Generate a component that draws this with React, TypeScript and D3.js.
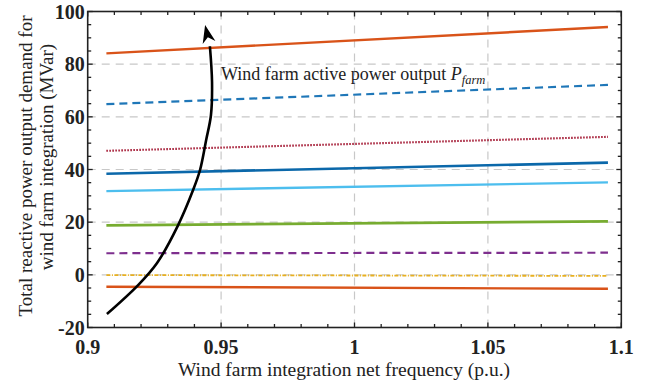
import React from "react";
import * as d3 from "d3";

// ---- data ----
const frequency = [0.907, 1.095];
const seriesOrangeTop = [84.1, 94.1];
const seriesBlueDash = [64.8, 72.1];
const seriesRedDot = [47.1, 52.4];
const seriesBlueSolid = [38.4, 42.6];
const seriesLightBlue = [31.8, 35.1];
const seriesGreen = [18.8, 20.3];
const seriesPurpleDash = [8.2, 8.4];
const seriesYellowDot = [-0.1, -0.4];
const seriesOrangeBottom = [-4.5, -5.3];

const xTicks = [0.9, 0.95, 1, 1.05, 1.1];
const xTickLabels = ["0.9", "0.95", "1", "1.05", "1.1"];
const yTicks = [-20, 0, 20, 40, 60, 80, 100];
const yTickLabels = ["-20", "0", "20", "40", "60", "80", "100"];

// arrow annotation (data coords)
const arrowX = [0.9072, 0.9189, 0.926, 0.9339, 0.9395, 0.9421, 0.9444, 0.9462, 0.9466, 0.9458];
const arrowY = [-14.9, -3.9, 4.5, 18.9, 32.2, 39.8, 51.2, 60.7, 73.2, 86.8];
const arrowTip = [0.9440, 94.9];

const W = 645, H = 386;
const M = { left: 87.7, right: 621.3, top: 11.5, bottom: 327.5 };

const series = [
  { v: seriesOrangeTop, color: "#d95319", dash: null, w: 2.4 },
  { v: seriesBlueDash, color: "#1f77b8", dash: "8,5", w: 2.2 },
  { v: seriesRedDot, color: "#a2142f", dash: "1.5,1.5", w: 2.1 },
  { v: seriesBlueSolid, color: "#0b68aa", dash: null, w: 2.6 },
  { v: seriesLightBlue, color: "#4dbeee", dash: null, w: 2.4 },
  { v: seriesGreen, color: "#77ac30", dash: null, w: 2.6 },
  { v: seriesPurpleDash, color: "#7e2f8e", dash: "8,5", w: 2.2 },
  { v: seriesYellowDot, color: "#e8b020", dash: "4,1.5,1,1.5", w: 1.8 },
  { v: seriesOrangeBottom, color: "#d95319", dash: null, w: 2.4 },
];

export default function App() {
  const x = d3.scaleLinear().domain([0.9, 1.1]).range([M.left, M.right]);
  const y = d3.scaleLinear().domain([-20, 100]).range([M.bottom, M.top]);
  const line = d3.line<number>().x((_, i) => x(frequency[i])).y((d) => y(d));

  const xMinor = d3.range(0.9, 1.1001, 0.01);
  const yMinor = d3.range(-20, 100.001, 5);

  const arrowPts: [number, number][] = arrowX.map((ax, i) => [x(ax), y(arrowY[i])]);
  const arrowPath = d3.line().curve(d3.curveCatmullRom)(arrowPts) || "";
  const tip = [x(arrowTip[0]), y(arrowTip[1])];
  const base = arrowPts[arrowPts.length - 1];
  const dx = tip[0] - base[0], dy = tip[1] - base[1];
  const len = Math.hypot(dx, dy);
  const ux = dx / len, uy = dy / len;
  const hl = 18, hw = 6.5;
  const bx = tip[0] - ux * hl, by = tip[1] - uy * hl;
  const head = `M${tip[0]},${tip[1]} L${bx - uy * hw},${by + ux * hw} L${tip[0] - ux * hl * 0.7},${tip[1] - uy * hl * 0.7} L${bx + uy * hw},${by - ux * hw} Z`;

  const font = "'Liberation Serif', 'Times New Roman', serif";
  const grid = "#c8c8c8";

  return (
    <svg width={W} height={H} style={{ position: "absolute", left: 0, top: 0, background: "#fff" }} fontFamily={font}>
      {/* grid */}
      {yTicks.filter((t) => t > -20 && t < 100).map((t) => (
        <line key={"gy" + t} x1={M.left} x2={M.right} y1={y(t)} y2={y(t)} stroke={grid} strokeWidth={1.2} strokeDasharray="8,6" />
      ))}
      {xTicks.filter((t) => t > 0.9 && t < 1.1).map((t) => (
        <line key={"gx" + t} x1={x(t)} x2={x(t)} y1={M.top} y2={M.bottom} stroke={grid} strokeWidth={1.2} strokeDasharray="8,6" />
      ))}
      {/* series */}
      {series.map((s, i) => (
        <path key={i} d={line(s.v) || ""} fill="none" stroke={s.color} strokeWidth={s.w} strokeDasharray={s.dash || undefined} />
      ))}
      {/* arrow */}
      <path d={arrowPath} fill="none" stroke="#000" strokeWidth={2.6} />
      <path d={head} fill="#000" />
      {/* annotation */}
      <text x={221} y={79.5} fontSize={18} fill="#222">
        Wind farm active power output <tspan fontStyle="italic">P</tspan>
        <tspan fontStyle="italic" fontSize={12.5} dy={4}>farm</tspan>
      </text>
      {/* axes box */}
      <rect x={M.left} y={M.top} width={M.right - M.left} height={M.bottom - M.top} fill="none" stroke="#222" strokeWidth={1.6} />
      {/* ticks */}
      {xMinor.map((t, i) => {
        const major = i % 5 === 0;
        const l = major ? 5 : 3.5;
        return (
          <g key={"xt" + i}>
            <line x1={x(t)} x2={x(t)} y1={M.bottom} y2={M.bottom - l} stroke="#222" strokeWidth={1.3} />
            <line x1={x(t)} x2={x(t)} y1={M.top} y2={M.top + l} stroke="#222" strokeWidth={1.3} />
          </g>
        );
      })}
      {yMinor.map((t, i) => {
        const major = i % 4 === 0;
        const l = major ? 5 : 3.5;
        return (
          <g key={"yt" + i}>
            <line x1={M.left} x2={M.left + l} y1={y(t)} y2={y(t)} stroke="#222" strokeWidth={1.3} />
            <line x1={M.right} x2={M.right - l} y1={y(t)} y2={y(t)} stroke="#222" strokeWidth={1.3} />
          </g>
        );
      })}
      {/* tick labels */}
      {yTicks.map((t, i) => (
        <text key={"yl" + t} x={M.left - 3} y={y(t)} dy="0.35em" textAnchor="end" fontSize={20} fontWeight="bold" fill="#222">
          {yTickLabels[i]}
        </text>
      ))}
      {xTicks.map((t, i) => (
        <text key={"xl" + t} x={x(t)} y={353.5} textAnchor="middle" fontSize={20} fontWeight="bold" fill="#222">
          {xTickLabels[i]}
        </text>
      ))}
      {/* axis titles */}
      <text x={344} y={376} textAnchor="middle" fontSize={19.5} fill="#222">
        Wind farm integration net frequency (p.u.)
      </text>
      <text transform={`translate(32,166) rotate(-90)`} textAnchor="middle" fontSize={19} fill="#222">
        Total reactive power output demand for
      </text>
      <text transform={`translate(53,157) rotate(-90)`} textAnchor="middle" fontSize={19} fill="#222">
        wind farm integration (MVar)
      </text>
    </svg>
  );
}
